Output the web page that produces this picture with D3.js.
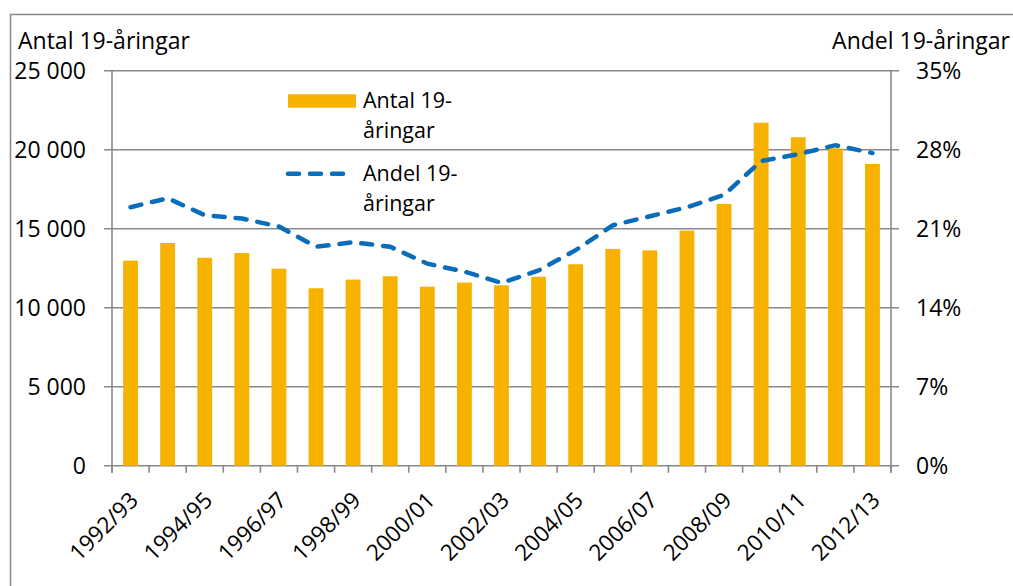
<!DOCTYPE html>
<html>
<head>
<meta charset="utf-8">
<script src="https://cdn.jsdelivr.net/npm/d3@7"></script>
<style>
  body { margin: 0; background: #fff; }
  svg text { font-family: "Open Sans", sans-serif; fill: #000; }
</style>
</head>
<body>
<div id="chart"></div>
<script>
// categories (school years)
var years = ["1992/93", "1993/94", "1994/95", "1995/96", "1996/97", "1997/98", "1998/99",
  "1999/00", "2000/01", "2001/02", "2002/03", "2003/04", "2004/05", "2005/06", "2006/07",
  "2007/08", "2008/09", "2009/10", "2010/11", "2011/12", "2012/13"];

// Antal 19-åringar (bars, left axis)
var antal = [12980, 14100, 13160, 13460, 12470, 11230, 11780, 11990, 11330, 11590, 11420,
  11960, 12750, 13720, 13630, 14880, 16570, 21710, 20790, 20090, 19100];

// Andel 19-åringar in % (dashed line, right axis)
var andel = [22.9, 23.7, 22.2, 21.9, 21.2, 19.4, 19.8, 19.4, 17.9, 17.2, 16.2,
  17.3, 19.1, 21.3, 22.1, 22.9, 24.0, 27.0, 27.6, 28.4, 27.7];

var leftTicks = [0, 5000, 10000, 15000, 20000, 25000];
var rightTicks = [0, 7, 14, 21, 28, 35];
var shownYears = years.filter(function(d, i) { return i % 2 == 0; });

var width = 1013, height = 586;
var plot = {left: 112, right: 891, top: 70.7, bottom: 465.7};

var barColor = "#F7B200";
var lineColor = "#0A6DB9";
var gridColor = "#898989";

var svg = d3.select("#chart").append("svg")
  .attr("width", width)
  .attr("height", height);

// outer chart frame
svg.append("rect")
  .attr("x", 10.5).attr("y", 14.5)
  .attr("width", 1100).attr("height", 700)
  .attr("fill", "none")
  .attr("stroke", gridColor)
  .attr("stroke-width", 1.5);

var x = d3.scaleBand().domain(years).range([plot.left, plot.right]).padding(0);
var y0 = d3.scaleLinear().domain([0, 25000]).range([plot.bottom, plot.top]);
var y1 = d3.scaleLinear().domain([0, 35]).range([plot.bottom, plot.top]);

// gridlines
svg.append("g")
  .selectAll("line")
  .data(leftTicks)
  .enter()
  .append("line")
  .attr("x1", plot.left - 8)
  .attr("x2", plot.right + 8)
  .attr("y1", d => y0(d))
  .attr("y2", d => y0(d))
  .attr("stroke", gridColor)
  .attr("stroke-width", 1.6);

// vertical axis lines
[plot.left, plot.right].forEach(function(px) {
  svg.append("line")
    .attr("x1", px).attr("x2", px)
    .attr("y1", plot.top).attr("y2", plot.bottom + 7)
    .attr("stroke", gridColor)
    .attr("stroke-width", 1.6);
});

// category tick marks on the x axis
var bounds = years.map(d => x(d)).concat([plot.right]);
svg.append("g")
  .selectAll("line")
  .data(bounds)
  .enter()
  .append("line")
  .attr("x1", d => d).attr("x2", d => d)
  .attr("y1", plot.bottom).attr("y2", plot.bottom + 7)
  .attr("stroke", gridColor)
  .attr("stroke-width", 1.6);

// bars
var barW = x.bandwidth() * 0.4;
svg.append("g")
  .selectAll("rect")
  .data(antal)
  .enter()
  .append("rect")
  .attr("x", (d, i) => x(years[i]) + (x.bandwidth() - barW) / 2)
  .attr("width", barW)
  .attr("y", d => y0(d))
  .attr("height", d => y0(0) - y0(d))
  .attr("fill", barColor);

// dashed line
var line = d3.line()
  .x((d, i) => x(years[i]) + x.bandwidth() / 2)
  .y(d => y1(d));

svg.append("path")
  .datum(andel)
  .attr("d", line)
  .attr("fill", "none")
  .attr("stroke", lineColor)
  .attr("stroke-width", 4.5)
  .attr("stroke-linecap", "round")
  .attr("stroke-dasharray", "11,11");

// left tick labels
svg.append("g")
  .selectAll("text")
  .data(leftTicks)
  .enter()
  .append("text")
  .attr("x", 86)
  .attr("y", d => y0(d))
  .attr("dy", "0.36em")
  .attr("text-anchor", "end")
  .style("font-size", "23px")
  .text(d => d3.format(",")(d).replace(",", " "));

// right tick labels
svg.append("g")
  .selectAll("text")
  .data(rightTicks)
  .enter()
  .append("text")
  .attr("x", 916)
  .attr("y", d => y1(d))
  .attr("dy", "0.36em")
  .style("font-size", "23px")
  .text(d => d + "%");

// x labels, rotated
svg.append("g")
  .selectAll("text")
  .data(shownYears)
  .enter()
  .append("text")
  .attr("text-anchor", "end")
  .style("font-size", "22.5px")
  .attr("transform", d => "translate(" + (x(d) + x.bandwidth() / 2 + 9) + "," + (plot.bottom + 36) + ") rotate(-45)")
  .text(d => d);

// axis titles
svg.append("text")
  .attr("x", 18).attr("y", 48.5)
  .style("font-size", "23px")
  .text("Antal 19-åringar");

svg.append("text")
  .attr("x", 1010).attr("y", 48.5)
  .attr("text-anchor", "end")
  .style("font-size", "23px")
  .text("Andel 19-åringar");

// legend
var legend = svg.append("g").attr("class", "legend");

legend.append("rect")
  .attr("x", 288).attr("y", 94.3)
  .attr("width", 68).attr("height", 13.4)
  .attr("fill", barColor);

legend.append("line")
  .attr("x1", 288).attr("x2", 348)
  .attr("y1", 173.7).attr("y2", 173.7)
  .attr("stroke", lineColor)
  .attr("stroke-width", 4.5)
  .attr("stroke-linecap", "round")
  .attr("stroke-dasharray", "11,11");

var legendText = [["Antal 19-", "åringar"], ["Andel 19-", "åringar"]];
legendText.forEach(function(lines, i) {
  lines.forEach(function(t, j) {
    legend.append("text")
      .attr("x", 363)
      .attr("y", 108 + i * 73 + j * 30)
      .style("font-size", "21.5px")
      .text(t);
  });
});
</script>
</body>
</html>
